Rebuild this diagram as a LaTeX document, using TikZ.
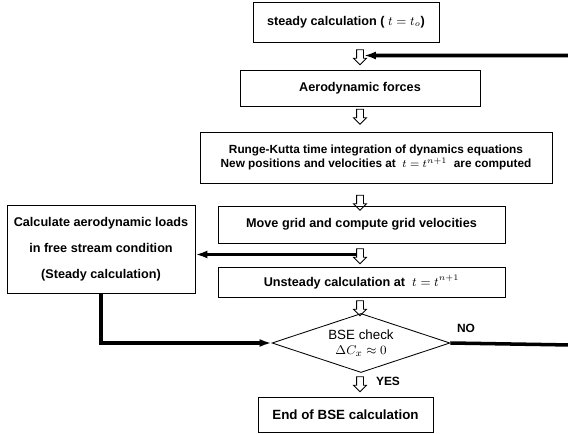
\documentclass[tikz,border=0pt]{standalone}
\usepackage{fontspec}
\setmainfont{Liberation Sans}
\usetikzlibrary{shapes.geometric, shapes.arrows, arrows.meta}

\begin{document}
\begin{tikzpicture}[x=0.025cm, y=-0.025cm,
    stepbox/.style={draw=black, line width=0.6pt, inner sep=0pt, align=center,
        font=\fontsize{9}{10.5}\selectfont\bfseries},
    checkbox/.style={draw=black, line width=0.6pt, diamond, aspect=3, inner sep=0pt,
        minimum width=4.45cm, minimum height=1.475cm, align=center,
        font=\fontsize{9.5}{11}\selectfont},
    hollow/.style={draw=black, line width=0.6pt, single arrow, shape border rotate=270,
        inner xsep=0.075cm, inner ysep=0pt, minimum height=0.375cm,
        single arrow head extend=0.075cm},
    thickline/.style={line width=2.5pt, -{Latex[length=3mm, width=2mm]}},
    flag/.style={font=\fontsize{8.5}{10}\selectfont\bfseries}]
\useasboundingbox (0,0) rectangle (568,434);

% main column
\node[stepbox, minimum width=4.65cm, minimum height=1.0cm] (b1) at (346,22) {steady calculation ( $t=t_o$)};
\node[stepbox, minimum width=6.0cm, minimum height=0.9cm] (b2) at (360,88) {Aerodynamic forces};
\node[stepbox, minimum width=8.8cm, minimum height=1.275cm, font=\fontsize{8.4}{10.5}\selectfont\bfseries] (b3) at (376,157.5)
    {Runge-Kutta time integration of dynamics equations\\New positions and velocities at \ $t=t^{n+1}$ \ are computed};
\node[stepbox, minimum width=7.175cm, minimum height=0.925cm] (b4) at (361.5,224.5) {Move grid and compute grid velocities};
\node[stepbox, minimum width=7.175cm, minimum height=0.75cm] (b5) at (361.5,282) {Unsteady calculation at \ $t=t^{n+1}$};
\node[checkbox] (d) at (361,343) {BSE check\\$\Delta C_x\approx 0$};
\node[stepbox, minimum width=4.375cm, minimum height=0.875cm, font=\fontsize{9.5}{11}\selectfont\bfseries] (b6) at (345.5,414.5) {End of BSE calculation};

% side box
\node[stepbox, minimum width=4.7cm, minimum height=2.2cm, font=\fontsize{9}{18.5}\selectfont\bfseries] (bc) at (101,249)
    {Calculate aerodynamic loads\\in free stream condition\\(Steady calculation)};

% hollow arrows between steps
\node[hollow] (a1) at (360,55.5) {};
\node[hollow] (a2) at (360,115) {};
\node[hollow] (a3) at (360,201) {};
\node[hollow] (a4) at (360,254.5) {};
\node[hollow] (a5) at (360,306.5) {};
\node[hollow] (a6) at (360,382.5) {};

% labels
\node[flag] (no) at (466,328) {NO};
\node[flag] (yes) at (388,381) {YES};

% loops
\coordinate (rt) at (571,345);
\draw[thickline] (d.east) -- (rt) |- (a1.east);
\draw[thickline] (a4.west) -- (a4.west -| bc.east);
\draw[thickline] (bc.south) |- (d.west);

\end{tikzpicture}
\end{document}
